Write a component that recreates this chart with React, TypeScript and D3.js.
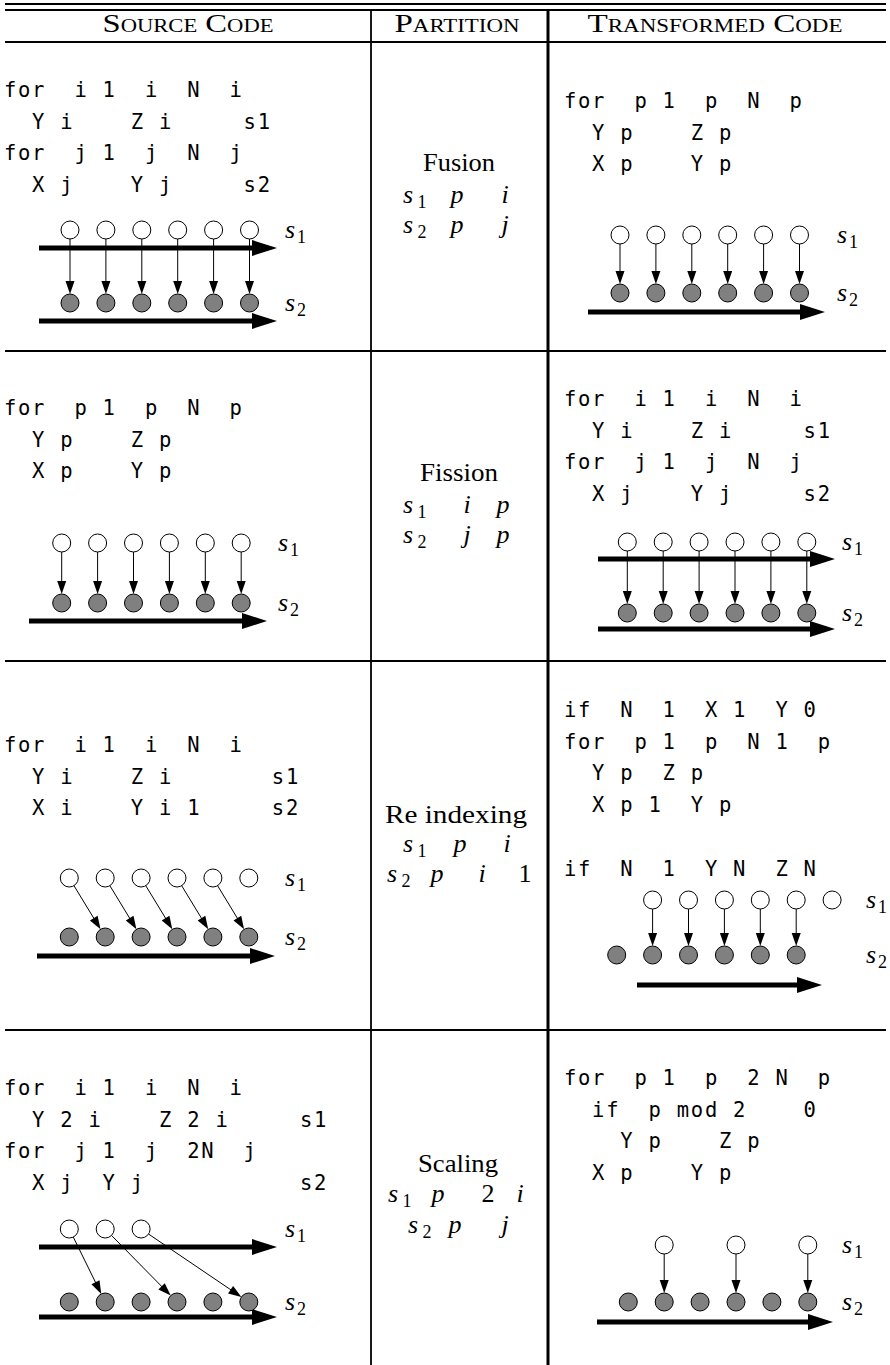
import React from 'react';
import * as d3 from 'd3';

// ---- data ----
const headers = ['Source Code', 'Partition', 'Transformed Code'];
const partitionNames = ['Fusion', 'Fission', 'Re indexing', 'Scaling'];

const fusionMap = [['s1', 'p', 'i'], ['s2', 'p', 'j']];
const fissionMap = [['s1', 'i', 'p'], ['s2', 'j', 'p']];
const reindexMap = [['s1', 'p', 'i'], ['s2', 'p', 'i', '1']];
const scalingMap = [['s1', 'p', '2', 'i'], ['s2', 'p', 'j']];

const fusionSrc = ['for  i 1  i  N  i', '  Y i    Z i     s1', 'for  j 1  j  N  j', '  X j    Y j     s2'];
const fusionOut = ['for  p 1  p  N  p', '  Y p    Z p', '  X p    Y p'];
const fissionSrc = ['for  p 1  p  N  p', '  Y p    Z p', '  X p    Y p'];
const fissionOut = ['for  i 1  i  N  i', '  Y i    Z i     s1', 'for  j 1  j  N  j', '  X j    Y j     s2'];
const reindexSrc = ['for  i 1  i  N  i', '  Y i    Z i       s1', '  X i    Y i 1     s2'];
const reindexOut = ['if  N  1  X 1  Y 0', 'for  p 1  p  N 1  p', '  Y p  Z p', '  X p 1  Y p', '', 'if  N  1  Y N  Z N'];
const scalingSrc = ['for  i 1  i  N  i', '  Y 2 i    Z 2 i     s1', 'for  j 1  j  2N  j', '  X j  Y j           s2'];
const scalingOut = ['for  p 1  p  2 N  p', '  if  p mod 2    0', '    Y p    Z p', '  X p    Y p'];

// node slots (s1 = white, s2 = grey) and dependence edges s1 slot -> s2 slot
const all6 = [0, 1, 2, 3, 4, 5];
const straight = all6.map(k => [k, k]);
const fusionSrcGraph = { white: all6, gray: all6, edges: straight, axes: ['s1', 's2'] };
const fusionOutGraph = { white: all6, gray: all6, edges: straight, axes: ['s2'] };
const fissionSrcGraph = { white: all6, gray: all6, edges: straight, axes: ['s2'] };
const fissionOutGraph = { white: all6, gray: all6, edges: straight, axes: ['s1', 's2'] };
const reindexSrcGraph = { white: all6, gray: all6, edges: [[0, 1], [1, 2], [2, 3], [3, 4], [4, 5]], axes: ['s2'] };
const reindexOutGraph = { white: [1, 2, 3, 4, 5, 6], gray: all6, edges: [[1, 1], [2, 2], [3, 3], [4, 4], [5, 5]], axes: ['s2'] };
const scalingSrcGraph = { white: [0, 1, 2], gray: all6, edges: [[0, 1], [1, 3], [2, 5]], axes: ['s1', 's2'] };
const scalingOutGraph = { white: [1, 3, 5], gray: all6, edges: [[1, 1], [3, 3], [5, 5]], axes: ['s2'] };

const rows = [
  { src: fusionSrc, out: fusionOut, map: fusionMap, srcG: fusionSrcGraph, outG: fusionOutGraph },
  { src: fissionSrc, out: fissionOut, map: fissionMap, srcG: fissionSrcGraph, outG: fissionOutGraph },
  { src: reindexSrc, out: reindexOut, map: reindexMap, srcG: reindexSrcGraph, outG: reindexOutGraph },
  { src: scalingSrc, out: scalingOut, map: scalingMap, srcG: scalingSrcGraph, outG: scalingOutGraph },
];

// ---- layout ----
const W = 890, H = 1365;
const CW = 14.1, LH = 31.7;
const SERIF = '"Liberation Serif", "Times New Roman", serif';
const MONO = '"DejaVu Sans Mono", monospace';

const headerLayout = [
  { cx: 188, w: 171 },
  { cx: 457, w: 125 },
  { cx: 715, w: 255 },
];
const rowLines = [42, 351, 661, 1030];

const codeLayout = [
  { src: { x: 3, y: 97 }, out: { x: 563, y: 108 } },
  { src: { x: 3, y: 415 }, out: { x: 563, y: 406 } },
  { src: { x: 3, y: 752 }, out: { x: 563, y: 717 } },
  { src: { x: 3, y: 1095 }, out: { x: 563, y: 1085 } },
];

const partLayout = [
  { title: { cx: 459, y: 171, w: 72 }, rows: [{ y: 203, xs: [408, 457, 505] }, { y: 233, xs: [408, 457, 505] }] },
  { title: { cx: 459, y: 481, w: 78 }, rows: [{ y: 513, xs: [408, 467, 503] }, { y: 543, xs: [408, 467, 503] }] },
  { title: { cx: 456, y: 823, w: 142 }, rows: [{ y: 852, xs: [408, 460, 507] }, { y: 882, xs: [392, 437, 482, 525] }] },
  { title: { cx: 458, y: 1172, w: 80 }, rows: [{ y: 1202, xs: [393, 438, 488, 520] }, { y: 1233, xs: [413, 455, 505] }] },
];

const graphLayout = [
  {
    src: { x0: 70, yW: 230, yG: 303, ax: [39, 277], ayW: 248, ayG: 321, lx: 285 },
    out: { x0: 620, yW: 235, yG: 293, ax: [588, 825], ayW: 0, ayG: 312, lx: 837 },
  },
  {
    src: { x0: 61.7, yW: 543, yG: 603, ax: [29, 267], ayW: 0, ayG: 621, lx: 278 },
    out: { x0: 627.3, yW: 542, yG: 613, ax: [598, 835], ayW: 559, ayG: 629, lx: 842 },
  },
  {
    src: { x0: 69.3, yW: 878, yG: 937, ax: [37, 275], ayW: 0, ayG: 956, lx: 285 },
    out: { x0: 616.7, yW: 900, yG: 955, ax: [637, 822], ayW: 0, ayG: 985, lx: 866 },
  },
  {
    src: { x0: 69.3, yW: 1229, yG: 1302, ax: [39, 277], ayW: 1247, ayG: 1317, lx: 285 },
    out: { x0: 628.3, yW: 1245, yG: 1302, ax: [597, 833], ayW: 0, ayG: 1322, lx: 842 },
  },
];

const R = 9;
const STEP = 35.9;

function Code({ lines, x, y }: { lines: string[]; x: number; y: number }) {
  const sx = d3.scaleLinear().domain([0, 1]).range([x + CW / 2, x + CW * 1.5]);
  const sy = d3.scaleLinear().domain([0, 1]).range([y, y + LH]);
  return (
    <g fontFamily={MONO} fontSize={20.5} fill="#000">
      {lines.map((line, li) =>
        line.split('').map((ch, ci) =>
          ch === ' ' ? null : (
            <text key={`${li}-${ci}`} x={sx(ci)} y={sy(li)} textAnchor="middle">{ch}</text>
          )
        )
      )}
    </g>
  );
}

function Token({ t, x, y }: { t: string; x: number; y: number }) {
  const m = t.match(/^([a-z])(\d)$/);
  if (m) {
    return (
      <g>
        <text x={x} y={y} textAnchor="middle" fontStyle="italic">{m[1]}</text>
        <text x={x + 14} y={y + 5} textAnchor="middle" fontSize={18}>{m[2]}</text>
      </g>
    );
  }
  const isNum = /^\d+$/.test(t);
  return <text x={x} y={y} textAnchor="middle" fontStyle={isNum ? 'normal' : 'italic'}>{t}</text>;
}

function ThinArrow({ x1, y1, x2, y2 }: { x1: number; y1: number; x2: number; y2: number }) {
  const dx = x2 - x1, dy = y2 - y1;
  const len = Math.hypot(dx, dy);
  const ux = dx / len, uy = dy / len;
  const sx = x1 + ux * R, sy = y1 + uy * R;
  const ex = x2 - ux * R, ey = y2 - uy * R;
  const hl = 13, hw = 4.5;
  const bx = ex - ux * hl, by = ey - uy * hl;
  const pts: [number, number][] = [[ex, ey], [bx - uy * hw, by + ux * hw], [bx + uy * hw, by - ux * hw]];
  return (
    <g>
      <line x1={sx} y1={sy} x2={bx + ux * 1} y2={by + uy * 1} stroke="#000" strokeWidth={1} />
      <polygon points={pts.map(p => p.join(',')).join(' ')} fill="#000" />
    </g>
  );
}

function ThickArrow({ x1, x2, y }: { x1: number; x2: number; y: number }) {
  const hl = 25, hw = 8;
  const pts = [[x2, y], [x2 - hl, y - hw], [x2 - hl, y + hw]];
  return (
    <g>
      <line x1={x1} y1={y} x2={x2 - hl + 2} y2={y} stroke="#000" strokeWidth={5} />
      <polygon points={pts.map(p => p.join(',')).join(' ')} fill="#000" />
    </g>
  );
}

function Label({ name, x, y }: { name: string; x: number; y: number }) {
  return (
    <g fontFamily={SERIF} fill="#000">
      <text x={x} y={y} fontSize={26} fontStyle="italic">{name[0]}</text>
      <text x={x + 12} y={y + 5} fontSize={18}>{name[1]}</text>
    </g>
  );
}

type Graph = { white: number[]; gray: number[]; edges: number[][]; axes: string[] };
type GL = { x0: number; yW: number; yG: number; ax: number[]; ayW: number; ayG: number; lx: number };

function Diagram({ g, l }: { g: Graph; l: GL }) {
  const x = d3.scaleLinear().domain([0, 1]).range([l.x0, l.x0 + STEP]);
  return (
    <g>
      {g.axes.includes('s1') && <ThickArrow x1={l.ax[0]} x2={l.ax[1]} y={l.ayW} />}
      {g.axes.includes('s2') && <ThickArrow x1={l.ax[0]} x2={l.ax[1]} y={l.ayG} />}
      {g.edges.map(([a, b], i) => (
        <ThinArrow key={i} x1={x(a)} y1={l.yW} x2={x(b)} y2={l.yG} />
      ))}
      {g.white.map(k => (
        <circle key={`w${k}`} cx={x(k)} cy={l.yW} r={R} fill="#fff" stroke="#000" strokeWidth={1} />
      ))}
      {g.gray.map(k => (
        <circle key={`g${k}`} cx={x(k)} cy={l.yG} r={R} fill="#808080" stroke="#000" strokeWidth={1} />
      ))}
      <Label name="s1" x={l.lx} y={l.yW + 8} />
      <Label name="s2" x={l.lx} y={l.yG + 8} />
    </g>
  );
}

export default function App() {
  return (
    <div style={{ position: 'absolute', left: 0, top: 0 }}>
      <svg width={W} height={H} style={{ display: 'block', background: '#fff' }}>
        {/* table rules */}
        <line x1={5} x2={886} y1={4} y2={4} stroke="#000" strokeWidth={2} />
        <line x1={5} x2={886} y1={10} y2={10} stroke="#000" strokeWidth={2} />
        {rowLines.map(y => (
          <line key={y} x1={5} x2={886} y1={y} y2={y} stroke="#000" strokeWidth={2} />
        ))}
        <line x1={371} x2={371} y1={10} y2={H} stroke="#000" strokeWidth={1.8} />
        <line x1={548} x2={548} y1={10} y2={H} stroke="#000" strokeWidth={3} />

        {/* headers */}
        <g fontFamily={SERIF} fontSize={26} style={{ fontVariant: 'small-caps' }}>
          {headers.map((h, i) => (
            <text key={h} x={headerLayout[i].cx} y={32} textAnchor="middle"
              textLength={headerLayout[i].w} lengthAdjust="spacingAndGlyphs">{h}</text>
          ))}
        </g>

        {rows.map((r, ri) => (
          <g key={ri}>
            <Code lines={r.src} x={codeLayout[ri].src.x} y={codeLayout[ri].src.y} />
            <Code lines={r.out} x={codeLayout[ri].out.x} y={codeLayout[ri].out.y} />
            <g fontFamily={SERIF} fontSize={26} fill="#000">
              <text x={partLayout[ri].title.cx} y={partLayout[ri].title.y} textAnchor="middle"
                textLength={partLayout[ri].title.w} lengthAdjust="spacingAndGlyphs">{partitionNames[ri]}</text>
              {r.map.map((toks, mi) =>
                toks.map((t, ti) => (
                  <Token key={`${mi}-${ti}`} t={t} x={partLayout[ri].rows[mi].xs[ti]} y={partLayout[ri].rows[mi].y} />
                ))
              )}
            </g>
            <Diagram g={r.srcG} l={graphLayout[ri].src} />
            <Diagram g={r.outG} l={graphLayout[ri].out} />
          </g>
        ))}
      </svg>
    </div>
  );
}
